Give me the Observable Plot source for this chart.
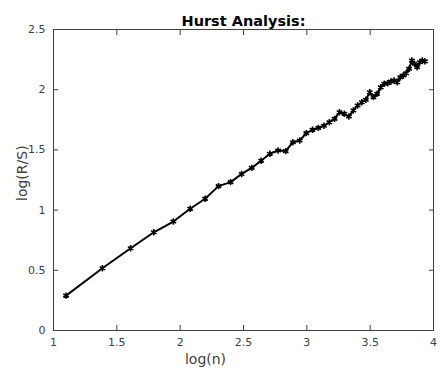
<!DOCTYPE html>
<html>
<head>
<meta charset="utf-8">
<script src="https://cdn.jsdelivr.net/npm/d3@7"></script>
<script src="https://cdn.jsdelivr.net/npm/@observablehq/plot@0.6"></script>
<style>
  html, body { margin: 0; padding: 0; background: #fff; }
  svg { font-family: "DejaVu Sans", sans-serif; }
</style>
</head>
<body>
<div id="chart"></div>
<script>
const title = "Hurst Analysis:";
const xLabel = "log(n)";
const yLabel = "log(R/S)";
const xTicks = [1, 1.5, 2, 2.5, 3, 3.5, 4];
const yTicks = [0, 0.5, 1, 1.5, 2, 2.5];

const logN = [1.099, 1.386, 1.609, 1.792, 1.946, 2.079, 2.197, 2.303, 2.398, 2.485,
  2.565, 2.639, 2.708, 2.773, 2.833, 2.890, 2.944, 2.996, 3.045, 3.091,
  3.135, 3.178, 3.219, 3.258, 3.296, 3.332, 3.367, 3.401, 3.434, 3.466,
  3.497, 3.526, 3.555, 3.584, 3.611, 3.638, 3.664, 3.689, 3.714, 3.738,
  3.761, 3.784, 3.807, 3.829, 3.850, 3.871, 3.892, 3.912, 3.932];
const logRS = [0.29, 0.517, 0.683, 0.816, 0.905, 1.011, 1.094, 1.199, 1.232, 1.30,
  1.351, 1.41, 1.468, 1.495, 1.49, 1.564, 1.578, 1.639, 1.667, 1.683,
  1.70, 1.73, 1.758, 1.813, 1.80, 1.777, 1.827, 1.869, 1.896, 1.916,
  1.979, 1.938, 1.966, 2.02, 2.049, 2.054, 2.068, 2.076, 2.062, 2.104,
  2.118, 2.137, 2.173, 2.243, 2.215, 2.187, 2.228, 2.243, 2.235];

const data = logN.map((x, i) => ({x, y: logRS[i]}));
const axisColor = "#404040";
const fmt = d => String(d);

const chart = Plot.plot({
  width: 440,
  height: 375,
  marginLeft: 53,
  marginRight: 7,
  marginTop: 29,
  marginBottom: 45,
  style: {fontFamily: "DejaVu Sans, sans-serif", background: "#fff"},
  x: {domain: [1, 4]},
  y: {domain: [0, 2.5]},
  marks: [
    Plot.frame({stroke: axisColor, strokeWidth: 1}),
    Plot.axisX(xTicks, {anchor: "bottom", tickSize: -5, tickPadding: 13, fontSize: 11, tickFormat: fmt, color: axisColor, label: null}),
    Plot.axisX(xTicks, {anchor: "top", tickSize: -5, tickFormat: () => "", color: axisColor, label: null}),
    Plot.axisY(yTicks, {anchor: "left", tickSize: -5, tickPadding: 13, fontSize: 11, tickFormat: fmt, color: axisColor, label: null}),
    Plot.axisY(yTicks, {anchor: "right", tickSize: -5, tickFormat: () => "", color: axisColor, label: null}),
    Plot.line(data, {x: "x", y: "y", stroke: "black", strokeWidth: 2}),
    Plot.dot(data, {x: "x", y: "y", symbol: "asterisk", r: 3, stroke: "black", strokeWidth: 1.6}),
    Plot.text([title], {frameAnchor: "top", dy: -14, fontSize: 14.5, fontWeight: "bold", fill: "black"}),
    Plot.text([xLabel], {frameAnchor: "bottom", dx: -38, dy: 33, fontSize: 14, fill: axisColor}),
    Plot.text([yLabel], {frameAnchor: "left", rotate: -90, dx: -31, dy: 21, fontSize: 14, fill: axisColor})
  ]
});
document.getElementById("chart").appendChild(chart);
</script>
</body>
</html>
